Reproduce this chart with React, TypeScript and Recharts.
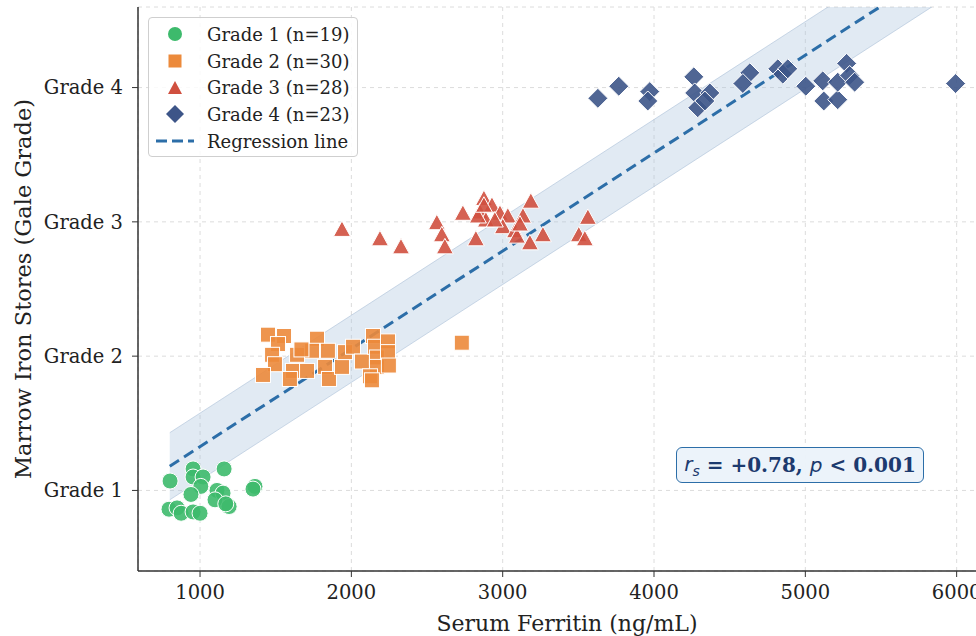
import {
  ComposedChart,
  Scatter,
  Line,
  Area,
  XAxis,
  YAxis,
  CartesianGrid,
} from 'recharts';

// ---- data ----
const grade1 = [
  { ferritin: 802, grade: 1.07 },
  { ferritin: 954, grade: 1.16 },
  { ferritin: 954, grade: 1.1 },
  { ferritin: 1020, grade: 1.1 },
  { ferritin: 1159, grade: 1.16 },
  { ferritin: 1005, grade: 1.03 },
  { ferritin: 940, grade: 0.97 },
  { ferritin: 1112, grade: 1.0 },
  { ferritin: 1152, grade: 0.98 },
  { ferritin: 1099, grade: 0.93 },
  { ferritin: 1192, grade: 0.88 },
  { ferritin: 1170, grade: 0.9 },
  { ferritin: 1363, grade: 1.03 },
  { ferritin: 1350, grade: 1.01 },
  { ferritin: 795, grade: 0.86 },
  { ferritin: 848, grade: 0.87 },
  { ferritin: 875, grade: 0.83 },
  { ferritin: 954, grade: 0.84 },
  { ferritin: 1000, grade: 0.83 },
];

const grade2 = [
  { ferritin: 1449, grade: 2.16 },
  { ferritin: 1555, grade: 2.15 },
  { ferritin: 1515, grade: 2.09 },
  { ferritin: 1476, grade: 2.01 },
  { ferritin: 1495, grade: 1.94 },
  { ferritin: 1416, grade: 1.86 },
  { ferritin: 1641, grade: 2.01 },
  { ferritin: 1614, grade: 1.89 },
  { ferritin: 1594, grade: 1.83 },
  { ferritin: 1707, grade: 1.89 },
  { ferritin: 1773, grade: 2.13 },
  { ferritin: 1740, grade: 2.04 },
  { ferritin: 1845, grade: 2.04 },
  { ferritin: 1826, grade: 1.92 },
  { ferritin: 1852, grade: 1.83 },
  { ferritin: 1938, grade: 1.92 },
  { ferritin: 1958, grade: 2.03 },
  { ferritin: 2011, grade: 2.07 },
  { ferritin: 2070, grade: 1.96 },
  { ferritin: 2143, grade: 2.15 },
  { ferritin: 2156, grade: 2.07 },
  { ferritin: 2169, grade: 1.99 },
  { ferritin: 2169, grade: 1.92 },
  { ferritin: 2123, grade: 1.85 },
  { ferritin: 2242, grade: 2.11 },
  { ferritin: 2242, grade: 2.03 },
  { ferritin: 2248, grade: 1.93 },
  { ferritin: 2136, grade: 1.82 },
  { ferritin: 1670, grade: 2.05 },
  { ferritin: 2730, grade: 2.1 },
];

const grade3 = [
  { ferritin: 1938, grade: 2.94 },
  { ferritin: 2189, grade: 2.87 },
  { ferritin: 2328, grade: 2.81 },
  { ferritin: 2565, grade: 2.99 },
  { ferritin: 2598, grade: 2.9 },
  { ferritin: 2618, grade: 2.81 },
  { ferritin: 2737, grade: 3.06 },
  { ferritin: 2823, grade: 2.87 },
  { ferritin: 2876, grade: 3.17 },
  { ferritin: 2849, grade: 3.07 },
  { ferritin: 2929, grade: 3.12 },
  { ferritin: 2889, grade: 3.01 },
  { ferritin: 2982, grade: 3.06 },
  { ferritin: 3034, grade: 3.04 },
  { ferritin: 3001, grade: 2.96 },
  { ferritin: 3081, grade: 2.93 },
  { ferritin: 3134, grade: 3.04 },
  { ferritin: 3186, grade: 3.15 },
  { ferritin: 3180, grade: 2.84 },
  { ferritin: 3266, grade: 2.9 },
  { ferritin: 3563, grade: 3.03 },
  { ferritin: 3503, grade: 2.9 },
  { ferritin: 3543, grade: 2.87 },
  { ferritin: 3094, grade: 2.89 },
  { ferritin: 2836, grade: 3.04 },
  { ferritin: 2876, grade: 3.12 },
  { ferritin: 2948, grade: 3.01 },
  { ferritin: 3114, grade: 2.98 },
];

const grade4 = [
  { ferritin: 3629, grade: 3.92 },
  { ferritin: 3767, grade: 4.01 },
  { ferritin: 3972, grade: 3.97 },
  { ferritin: 3959, grade: 3.9 },
  { ferritin: 4263, grade: 4.08 },
  { ferritin: 4269, grade: 3.96 },
  { ferritin: 4369, grade: 3.96 },
  { ferritin: 4289, grade: 3.85 },
  { ferritin: 4336, grade: 3.9 },
  { ferritin: 4633, grade: 4.11 },
  { ferritin: 4587, grade: 4.03 },
  { ferritin: 4818, grade: 4.14 },
  { ferritin: 4851, grade: 4.1 },
  { ferritin: 4884, grade: 4.14 },
  { ferritin: 5003, grade: 4.01 },
  { ferritin: 5115, grade: 4.05 },
  { ferritin: 5122, grade: 3.9 },
  { ferritin: 5214, grade: 3.91 },
  { ferritin: 5214, grade: 4.04 },
  { ferritin: 5273, grade: 4.18 },
  { ferritin: 5293, grade: 4.09 },
  { ferritin: 5326, grade: 4.04 },
  { ferritin: 5993, grade: 4.03 },
];

// regression fit and its band, at the two ends of the data range
const regFerritin = [800, 6000];
const regFit = [1.18, 4.97];
const regLow = [0.93, 4.72];
const regHigh = [1.43, 5.22];

const xTicks = [1000, 2000, 3000, 4000, 5000, 6000];
const yTicks = [1, 2, 3, 4];
const yTickLabels = ['Grade 1', 'Grade 2', 'Grade 3', 'Grade 4'];

const regData = regFerritin.map((f, i) => ({
  ferritin: f,
  fit: regFit[i],
  band: [regLow[i], regHigh[i]],
}));

const COLORS = {
  g1: '#3dba6c',
  g2: '#ec8a3b',
  g3: '#d0503f',
  g4: '#3d5588',
  reg: '#2c6ea8',
};

const SERIF = '"DejaVu Serif", serif';
const R = 8;

const Dot = (p: any) => (
  <circle cx={p.cx} cy={p.cy} r={R} fill={COLORS.g1} fillOpacity={0.9} stroke="#fff" strokeWidth={1} />
);
const Sq = (p: any) => (
  <rect x={p.cx - 7.5} y={p.cy - 7.5} width={15} height={15} fill={COLORS.g2} fillOpacity={0.9} stroke="#fff" strokeWidth={1} />
);
const Tri = (p: any) => (
  <path
    d={`M${p.cx},${p.cy - 9} L${p.cx + 8.5},${p.cy + 6.5} L${p.cx - 8.5},${p.cy + 6.5} Z`}
    fill={COLORS.g3}
    fillOpacity={0.9}
    stroke="#fff"
    strokeWidth={1}
  />
);
const Dia = (p: any) => (
  <path
    d={`M${p.cx},${p.cy - 10} L${p.cx + 10},${p.cy} L${p.cx},${p.cy + 10} L${p.cx - 10},${p.cy} Z`}
    fill={COLORS.g4}
    fillOpacity={0.9}
    stroke="#fff"
    strokeWidth={1}
  />
);

const legendItems = [
  { label: 'Grade 1 (n=19)', kind: 'circle', color: COLORS.g1 },
  { label: 'Grade 2 (n=30)', kind: 'square', color: COLORS.g2 },
  { label: 'Grade 3 (n=28)', kind: 'triangle', color: COLORS.g3 },
  { label: 'Grade 4 (n=23)', kind: 'diamond', color: COLORS.g4 },
  { label: 'Regression line', kind: 'line', color: COLORS.reg },
];

function LegendIcon({ kind, color }: { kind: string; color: string }) {
  return (
    <svg width={40} height={20} style={{ display: 'block' }}>
      {kind === 'circle' && <circle cx={20} cy={10} r={7} fill={color} />}
      {kind === 'square' && <rect x={13.5} y={3.5} width={13} height={13} fill={color} />}
      {kind === 'triangle' && <path d="M20,3 L27,16 L13,16 Z" fill={color} />}
      {kind === 'diamond' && <path d="M20,1 L29,10 L20,19 L11,10 Z" fill={color} />}
      {kind === 'line' && (
        <line x1={1} y1={10} x2={39} y2={10} stroke={color} strokeWidth={3} strokeDasharray="11 5" />
      )}
    </svg>
  );
}

export default function App() {
  return (
    <div
      style={{
        position: 'fixed',
        left: 0,
        top: 0,
        width: 976,
        height: 636,
        overflow: 'hidden',
        background: '#fff',
      }}
    >
      <ComposedChart
        width={1010}
        height={636}
        data={regData}
        margin={{ top: 7, right: 14, bottom: 0, left: 0 }}
      >
        <CartesianGrid stroke="#dcdcdc" strokeDasharray="4 4" />
        <XAxis
          dataKey="ferritin"
          type="number"
          domain={[590, 6260]}
          ticks={xTicks}
          allowDataOverflow
          height={65}
          tick={{ fontFamily: SERIF, fontSize: 19.5, fill: '#222' }}
          tickSize={6}
          tickMargin={8}
          stroke="#333"
          axisLine={{ stroke: '#333', strokeWidth: 1.5 }}
          label={{
            value: 'Serum Ferritin (ng/mL)',
            position: 'insideBottom',
            offset: 5,
            style: { fontFamily: SERIF, fontSize: 22, fill: '#222' },
          }}
        />
        <YAxis
          type="number"
          domain={[0.4, 4.6]}
          ticks={yTicks}
          allowDataOverflow
          width={138}
          tickFormatter={(v: number) => yTickLabels[yTicks.indexOf(v)]}
          tick={{ fontFamily: SERIF, fontSize: 19.5, fill: '#222' }}
          tickSize={6}
          tickMargin={9}
          stroke="#333"
          axisLine={{ stroke: '#333', strokeWidth: 1.5 }}
          label={{
            value: 'Marrow Iron Stores (Gale Grade)',
            angle: -90,
            position: 'insideLeft',
            offset: 23,
            style: { fontFamily: SERIF, fontSize: 22.5, fill: '#222', textAnchor: 'middle' },
          }}
        />
        <Area
          dataKey="band"
          type="linear"
          fill="#a9c2dc"
          fillOpacity={0.35}
          stroke="#9db6d2"
          strokeOpacity={0.5}
          strokeWidth={1}
          isAnimationActive={false}
          activeDot={false}
        />
        <Scatter data={grade1} dataKey="grade" shape={Dot} isAnimationActive={false} />
        <Scatter data={grade2} dataKey="grade" shape={Sq} isAnimationActive={false} />
        <Scatter data={grade3} dataKey="grade" shape={Tri} isAnimationActive={false} />
        <Scatter data={grade4} dataKey="grade" shape={Dia} isAnimationActive={false} />
        <Line
          dataKey="fit"
          type="linear"
          stroke={COLORS.reg}
          strokeWidth={3}
          strokeDasharray="11 6"
          dot={false}
          activeDot={false}
          isAnimationActive={false}
        />
      </ComposedChart>

      <div
        style={{
          position: 'absolute',
          left: 148,
          top: 17,
          width: 210,
          height: 140,
          boxSizing: 'border-box',
          border: '1px solid #cfcfcf',
          borderRadius: 4,
          background: 'rgba(255,255,255,0.85)',
          padding: '3px 0 0 6px',
          fontFamily: SERIF,
          fontSize: 18,
          color: '#222',
        }}
      >
        {legendItems.map((it) => (
          <div key={it.label} style={{ display: 'flex', alignItems: 'center', height: 26.7 }}>
            <LegendIcon kind={it.kind} color={it.color} />
            <span style={{ marginLeft: 12, whiteSpace: 'nowrap' }}>{it.label}</span>
          </div>
        ))}
      </div>

      <div
        style={{
          position: 'absolute',
          left: 676,
          top: 447,
          width: 248,
          height: 36,
          boxSizing: 'border-box',
          border: '1.5px solid #2c6ea8',
          borderRadius: 6,
          background: 'rgba(235,242,250,0.95)',
          display: 'flex',
          alignItems: 'center',
          justifyContent: 'center',
          fontFamily: SERIF,
          fontWeight: 'bold',
          fontSize: 20,
          color: '#1c3a6e',
          whiteSpace: 'nowrap',
        }}
      >
        <span style={{ fontFamily: '"DejaVu Sans", sans-serif', fontStyle: 'italic', fontWeight: 'normal' }}>
          r<sub style={{ fontSize: 14 }}>s</sub>
        </span>
        <span>&nbsp;= +0.78,&nbsp;</span>
        <span style={{ fontFamily: '"DejaVu Sans", sans-serif', fontStyle: 'italic', fontWeight: 'normal' }}>p</span>
        <span>&nbsp;&lt; 0.001</span>
      </div>
    </div>
  );
}
